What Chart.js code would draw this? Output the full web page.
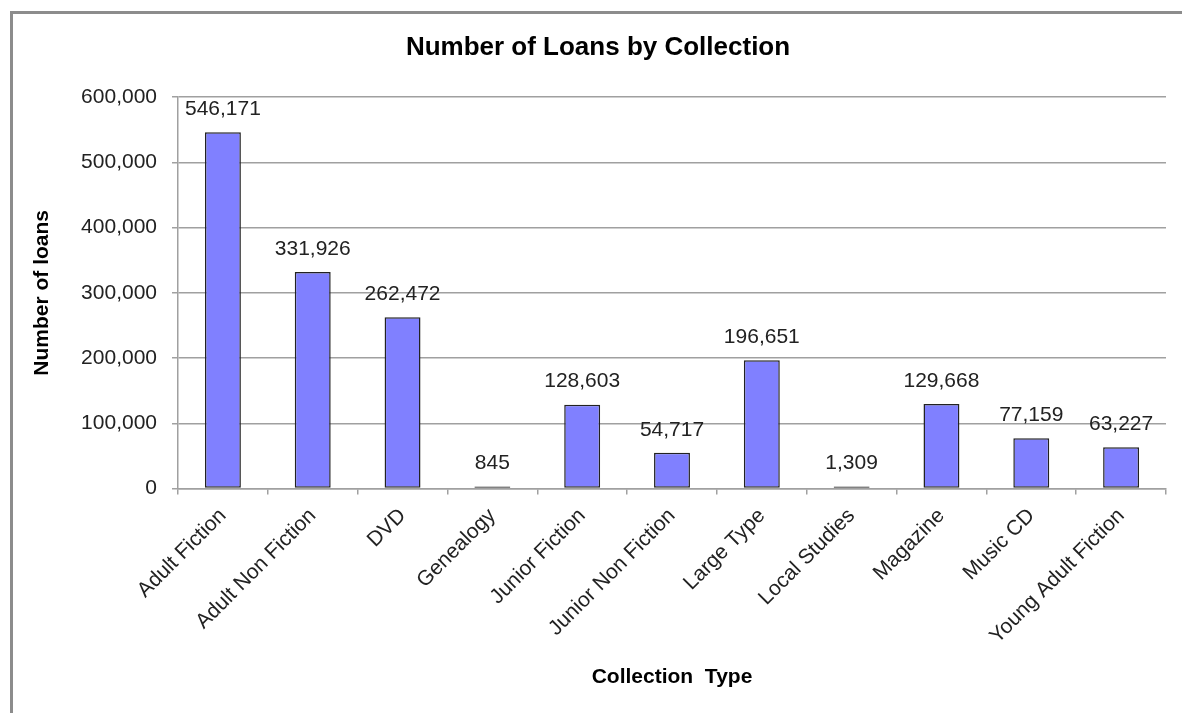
<!DOCTYPE html>
<html>
<head>
<meta charset="utf-8">
<title>Number of Loans by Collection</title>
<script src="https://cdn.jsdelivr.net/npm/chart.js@4.4.1/dist/chart.umd.min.js"></script>
<style>
  html, body { margin: 0; padding: 0; background: #fff; overflow: hidden; }
  #loans { display: block; }
</style>
</head>
<body>
<canvas id="loans" width="1182" height="713"></canvas>
<script>
const collections = [
    'Adult Fiction', 'Adult Non Fiction', 'DVD', 'Genealogy', 'Junior Fiction',
    'Junior Non Fiction', 'Large Type', 'Local Studies', 'Magazine', 'Music CD',
    'Young Adult Fiction'
];
const loanCounts = [546171, 331926, 262472, 845, 128603, 54717, 196651, 1309, 129668, 77159, 63227];
const yTicks = [0, 100000, 200000, 300000, 400000, 500000, 600000];

const FONT = "'Liberation Sans', Arial, sans-serif";
const fmt = v => Number(v).toLocaleString('en-US');

// grey frame round the whole chart (cut off at right and bottom)
const framePlugin = {
    id: 'frame',
    beforeDraw(chart) {
        const { ctx } = chart;
        ctx.save();
        ctx.fillStyle = '#fff';
        ctx.fillRect(0, 0, chart.width, chart.height);
        ctx.strokeStyle = '#8c8c8c';
        ctx.lineWidth = 3;
        ctx.strokeRect(11.5, 12.5, chart.width + 40, chart.height + 40);
        ctx.restore();
    }
};

// value written above each bar
const valueLabels = {
    id: 'valueLabels',
    afterDatasetsDraw(chart) {
        const { ctx } = chart;
        const meta = chart.getDatasetMeta(0);
        ctx.save();
        ctx.font = `21px ${FONT}`;
        ctx.fillStyle = '#222';
        ctx.textAlign = 'center';
        ctx.textBaseline = 'middle';
        meta.data.forEach((bar, i) => {
            ctx.fillText(fmt(chart.data.datasets[0].data[i]), bar.x, bar.y - 23);
        });
        ctx.restore();
    }
};

new Chart(document.getElementById('loans'), {
    type: 'bar',
    data: {
        labels: collections,
        datasets: [{
            data: loanCounts,
            backgroundColor: '#8080ff',
            borderColor: '#222',
            borderWidth: 1.5,
            borderSkipped: false,
            minBarLength: 2, // keeps the tiny ones visible as a dark line
            categoryPercentage: 1,
            barPercentage: 0.4
        }]
    },
    options: {
        responsive: false,
        animation: false,
        layout: { padding: { left: 30, right: 16, top: 0, bottom: 0 } },
        plugins: {
            legend: { display: false },
            tooltip: { enabled: false },
            title: {
                display: true,
                text: 'Number of Loans by Collection',
                color: '#000',
                font: { family: FONT, size: 26, weight: 'bold' },
                padding: { top: 32, bottom: 34 }
            }
        },
        scales: {
            x: {
                grid: {
                    offset: true,
                    drawOnChartArea: false,
                    drawTicks: true,
                    tickLength: 6,
                    color: '#a0a0a0',
                    lineWidth: 1.5
                },
                border: { display: true, color: '#a0a0a0', width: 1.5 },
                ticks: {
                    color: '#222',
                    font: { family: FONT, size: 21 },
                    minRotation: 45,
                    maxRotation: 45,
                    autoSkip: false,
                    padding: 9
                },
                title: {
                    display: true,
                    text: 'Collection  Type',
                    color: '#000',
                    font: { family: FONT, size: 21, weight: 'bold' },
                    padding: { top: 0, bottom: 23 }
                },
                afterFit(scale) { scale.height = 224.5; }
            },
            y: {
                min: 0,
                max: 600000,
                afterBuildTicks(scale) {
                    scale.ticks = yTicks.map(v => ({ value: v }));
                },
                grid: {
                    color: '#a0a0a0',
                    lineWidth: 1.5,
                    drawTicks: true,
                    tickLength: 6
                },
                border: { display: true, color: '#a0a0a0', width: 1.5 },
                ticks: {
                    color: '#222',
                    font: { family: FONT, size: 21 },
                    padding: 15,
                    callback: v => fmt(v)
                },
                title: {
                    display: true,
                    text: 'Number of loans',
                    color: '#000',
                    font: { family: FONT, size: 21, weight: 'bold' },
                    padding: { top: 0, bottom: 0 }
                },
                afterFit(scale) { scale.width = 148; }
            }
        }
    },
    plugins: [framePlugin, valueLabels]
});
</script>
</body>
</html>
